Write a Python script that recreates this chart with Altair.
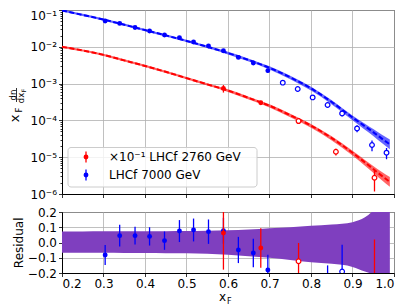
import altair as alt
import pandas as pd

# ---------------- data ----------------
grid_x = [0.2, 0.25, 0.3, 0.35, 0.4, 0.45, 0.5, 0.55, 0.6, 0.65, 0.7, 0.75, 0.8, 0.85, 0.9, 0.93, 0.95, 0.97, 0.99]
blue_model = [0.0977, 0.0733, 0.0550, 0.0398, 0.0285, 0.0204, 0.01445, 0.0100, 0.00676, 0.00437, 0.00269,
              0.00148, 7.41e-4, 3.16e-4, 1.20e-4, 6.92e-5, 4.79e-5, 3.24e-5, 2.24e-5]
red_model = [0.0100, 0.00794, 0.00603, 0.00427, 0.00302, 0.00209, 0.00141, 9.55e-4, 6.46e-4, 4.07e-4, 2.51e-4,
             1.38e-4, 7.24e-5, 3.31e-5, 1.32e-5, 7.24e-6, 4.79e-6, 3.16e-6, 2.14e-6]
band_hi = [0.072, 0.072, 0.073, 0.073, 0.074, 0.074, 0.075, 0.077, 0.080, 0.085, 0.093, 0.100, 0.110, 0.118,
           0.133, 0.165, 0.21, 0.27, 0.35]
band_lo = [-0.068, -0.068, -0.068, -0.069, -0.069, -0.070, -0.070, -0.074, -0.080, -0.090, -0.100, -0.115,
           -0.130, -0.140, -0.160, -0.190, -0.21, -0.24, -0.27]

# LHCf 7000 GeV, filled points
b_x = [0.304, 0.339, 0.376, 0.411, 0.447, 0.483, 0.517, 0.553, 0.589, 0.625, 0.661, 0.696]
b_y = [0.0502, 0.0433, 0.0336, 0.0269, 0.0209, 0.0177, 0.0135, 0.0105, 0.00783, 0.00515, 0.00363, 0.00225]
b_err = [0.0036, 0.0030, 0.0019, 0.0016, 0.0012, 0.0012, 0.00094, 0.00078, 0.00062, 0.00047, 0.00036, 0.00027]
b_res = [-0.082, 0.045, 0.045, 0.040, 0.012, 0.075, 0.082, 0.071, 0.077, -0.049, -0.069, -0.180]
b_res_err = [0.065, 0.072, 0.058, 0.060, 0.060, 0.072, 0.075, 0.080, 0.085, 0.086, 0.093, 0.100]
# LHCf 7000 GeV, open points
bo_x = [0.732, 0.768, 0.804, 0.840, 0.875, 0.911, 0.947, 0.982]
bo_y = [1.06e-3, 7.13e-4, 4.22e-4, 2.62e-4, 1.55e-4, 6.06e-5, 2.15e-5, 1.33e-5]
bo_err = [0.8e-4, 0.55e-4, 0.35e-4, 0.28e-4, 0.27e-4, 1.3e-5, 7e-6, 4.5e-6]
bo_res_x = [0.840, 0.875]
bo_res = [-0.26, -0.19]
bo_res_err = [0.11, 0.175]
# x10^-1 LHCf 2760 GeV, filled points
r_x = [0.589, 0.679]
r_y = [7.41e-4, 3.03e-4]
r_err = [1.7e-4, 4.1e-5]
r_res = [0.062, -0.036]
r_res_err = [0.24, 0.13]
# x10^-1 LHCf 2760 GeV, open points
ro_x = [0.770, 0.860, 0.953]
ro_y = [9.6e-5, 1.41e-5, 2.77e-6]
ro_err = [1.2e-5, 3e-6, 1.6e-6]
ro_res_x = [0.770, 0.953]
ro_res = [-0.123, -0.35]
ro_res_err = [0.12, 0.37]

x_ticks = [0.2, 0.3, 0.4, 0.5, 0.6, 0.7, 0.8, 0.9, 1.0]
y_dec = [1e-6, 1e-5, 1e-4, 1e-3, 1e-2, 1e-1]
y_dec_exp = [-6, -5, -4, -3, -2, -1]
y_dec_labels = ['10⁻⁶', '10⁻⁵', '10⁻⁴', '10⁻³', '10⁻²', '10⁻¹']
y_minor = [m * d for d in [1e-6, 1e-5, 1e-4, 1e-3, 1e-2] for m in range(2, 10)]
res_ticks = [-0.2, -0.1, 0.0, 0.1, 0.2]
legend_labels = ['×10⁻¹ LHCf 2760 GeV', 'LHCf 7000 GeV']

# ---------------- style ----------------
BLUE, RED, PURPLE = '#0000ff', '#ff0000', '#7f3fbf'
FONT = 'DejaVu Sans'
W, H1, H2 = 332, 184, 61

model = pd.DataFrame({'x': grid_x, 'blue': blue_model, 'red': red_model, 'hi': band_hi, 'lo': band_lo})
model['blue_hi'] = model['blue'] * (1 + model['hi'])
model['blue_lo'] = model['blue'] * (1 + model['lo'])
model['red_hi'] = model['red'] * (1 + model['hi'])
model['red_lo'] = model['red'] * (1 + model['lo'])


def pts(xs, ys, es):
    d = pd.DataFrame({'x': xs, 'y': ys, 'e': es})
    d['lo'] = d['y'] - d['e']
    d['hi'] = d['y'] + d['e']
    return d


xscale = alt.Scale(domain=[0.2, 1.0], nice=False, zero=False)
yscale_top = alt.Scale(type='log', domain=[1e-6, 1e-1], nice=False)
yscale_bot = alt.Scale(domain=[-0.2, 0.2], nice=False, zero=False)

MAJ = "abs(log(datum.value)/LN10 - round(log(datum.value)/LN10)) < 0.01"
E = "round(log(datum.value)/LN10)"
lab_expr = "!(" + MAJ + ") ? '' : "
for ex, lab in zip(y_dec_exp, y_dec_labels):
    lab_expr += f"{E} == {ex} ? '{lab}' : "
lab_expr += "''"

x_axis_top = alt.Axis(values=x_ticks, labels=False, title=None, grid=True, tickSize=3.5)
x_axis_bot = alt.Axis(values=x_ticks, format='.1f', title=None, grid=True, tickSize=3.5, labelPadding=2)
y_axis_top = alt.Axis(values=y_dec + y_minor, labelExpr=lab_expr, title=None, grid=True, labelOverlap=False,
                      tickSize={"condition": {"test": MAJ, "value": 3.5}, "value": 2},
                      gridOpacity={"condition": {"test": MAJ, "value": 1}, "value": 0},
                      labelBaseline={"condition": {"test": "datum.value > 0.05", "value": "top"}, "value": "middle"},
                      labelPadding=2)
y_axis_bot = alt.Axis(values=res_ticks, labelExpr="replace(format(datum.value, '.1f'), '-', '−')",
                      title='Residual', titleAngle=270, titleX=-40, titleY=30.3, titleBaseline='alphabetic',
                      titleAlign='center', grid=True, tickSize=3.5, labelPadding=2, labelOverlap=False)


def XT(f='x'):
    return alt.X(f'{f}:Q', scale=xscale, axis=x_axis_top)


def YT(f):
    return alt.Y(f'{f}:Q', scale=yscale_top, axis=y_axis_top)


def XB(f='x'):
    return alt.X(f'{f}:Q', scale=xscale, axis=x_axis_bot)


def YB(f):
    return alt.Y(f'{f}:Q', scale=yscale_bot, axis=y_axis_bot)


one = pd.DataFrame({'a': [0]})

# ---------------- top panel ----------------
mb = alt.Chart(model)
blue_band = mb.mark_area(color=BLUE, opacity=0.6, interpolate='monotone', clip=True).encode(
    x=XT(), y=YT('blue_lo'), y2='blue_hi:Q')
blue_line = mb.mark_line(color=BLUE, strokeDash=[5, 2.5], strokeWidth=2, interpolate='monotone', clip=True).encode(
    x=XT(), y=YT('blue'))
red_band = mb.mark_area(color=RED, opacity=0.6, interpolate='monotone', clip=True).encode(
    x=XT(), y=YT('red_lo'), y2='red_hi:Q')
red_line = mb.mark_line(color=RED, strokeDash=[5, 2.5], strokeWidth=2, interpolate='monotone', clip=True).encode(
    x=XT(), y=YT('red'))


def top_pts(xs, ys, es, color, filled):
    c = alt.Chart(pts(xs, ys, es))
    rule = c.mark_rule(color=color, strokeWidth=1.3, clip=True).encode(x=XT(), y=YT('lo'), y2='hi:Q')
    if filled:
        p = c.mark_point(shape='circle', filled=True, color=color, size=24, opacity=1, clip=True)
    else:
        p = c.mark_point(shape='circle', filled=True, fill='white', stroke=color, strokeWidth=1.2,
                         size=22, opacity=1, clip=True)
    return rule, p.encode(x=XT(), y=YT('y'))


tb_r, tb_p = top_pts(b_x, b_y, b_err, BLUE, True)
tbo_r, tbo_p = top_pts(bo_x, bo_y, bo_err, BLUE, False)
tr_r, tr_p = top_pts(r_x, r_y, r_err, RED, True)
tro_r, tro_p = top_pts(ro_x, ro_y, ro_err, RED, False)

co = alt.Chart(one)
leg_box = co.mark_rect(fill='white', fillOpacity=0.8, stroke='#cccccc', strokeWidth=1, cornerRadius=3).encode(
    x=alt.value(6), x2=alt.value(195), y=alt.value(137.5), y2=alt.value(177))
leg_items = []
for i, (col, lab) in enumerate(zip([RED, BLUE], legend_labels)):
    yy = 147 + 18 * i
    leg_items.append(co.mark_rule(color=col, strokeWidth=1.3).encode(
        x=alt.value(24), y=alt.value(yy - 5.5), y2=alt.value(yy + 5.5)))
    leg_items.append(co.mark_point(shape='circle', filled=True, color=col, size=24, opacity=1).encode(
        x=alt.value(24), y=alt.value(yy)))
    leg_items.append(co.mark_text(text=lab, align='left', baseline='middle', font=FONT, fontSize=12,
                                  color='black').encode(x=alt.value(47), y=alt.value(yy)))

# composed y-label  x_F dn/dx_F
ylab = [
    co.mark_text(text='x', angle=270, align='center', baseline='alphabetic', font=FONT, fontSize=13,
                 color='black').encode(x=alt.value(-43.5), y=alt.value(108.5)),
    co.mark_text(text='F', angle=270, align='center', baseline='alphabetic', font=FONT, fontSize=8.5,
                 color='black').encode(x=alt.value(-40.5), y=alt.value(100)),
    co.mark_text(text='dn', angle=270, align='center', baseline='alphabetic', font=FONT, fontSize=8.5,
                 color='black').encode(x=alt.value(-46.5), y=alt.value(85)),
    co.mark_rule(color='black', strokeWidth=0.8).encode(x=alt.value(-45.5), y=alt.value(78), y2=alt.value(92)),
    co.mark_text(text='dx', angle=270, align='center', baseline='alphabetic', font=FONT, fontSize=8.5,
                 color='black').encode(x=alt.value(-38.5), y=alt.value(88)),
    co.mark_text(text='F', angle=270, align='center', baseline='alphabetic', font=FONT, fontSize=6,
                 color='black').encode(x=alt.value(-36.5), y=alt.value(80.5)),
]

top = alt.layer(blue_band, blue_line, red_band, red_line,
                tb_r, tbo_r, tr_r, tro_r, tb_p, tbo_p, tr_p, tro_p,
                leg_box, *leg_items, *ylab).properties(width=W, height=H1)

# ---------------- bottom panel ----------------
res_band = alt.Chart(model).mark_area(color=PURPLE, opacity=1, interpolate='monotone', clip=True).encode(
    x=XB(), y=YB('lo'), y2='hi:Q')


def bot_pts(xs, ys, es, color, filled):
    c = alt.Chart(pts(xs, ys, es))
    rule = c.mark_rule(color=color, strokeWidth=1.3, clip=True).encode(x=XB(), y=YB('lo'), y2='hi:Q')
    if filled:
        p = c.mark_point(shape='circle', filled=True, color=color, size=24, opacity=1, clip=True)
    else:
        p = c.mark_point(shape='circle', filled=True, fill='white', stroke=color, strokeWidth=1.2,
                         size=22, opacity=1, clip=True)
    return rule, p.encode(x=XB(), y=YB('y'))


bb_r, bb_p = bot_pts(b_x, b_res, b_res_err, BLUE, True)
bbo_r, bbo_p = bot_pts(bo_res_x, bo_res, bo_res_err, BLUE, False)
br_r, br_p = bot_pts(r_x, r_res, r_res_err, RED, True)
bro_r, bro_p = bot_pts(ro_res_x, ro_res, ro_res_err, RED, False)

xlab = [
    co.mark_text(text='x', align='center', baseline='alphabetic', font=FONT, fontSize=12,
                 color='black').encode(x=alt.value(160.5), y=alt.value(89)),
    co.mark_text(text='F', align='left', baseline='alphabetic', font=FONT, fontSize=8,
                 color='black').encode(x=alt.value(165), y=alt.value(92)),
]

bottom = alt.layer(res_band, bb_r, bbo_r, bb_p, bbo_p, br_r, bro_r, br_p, bro_p, *xlab).properties(
    width=W, height=H2)

chart = alt.vconcat(top, bottom, spacing=4).configure_view(
    stroke='black', strokeWidth=1
).configure_axis(
    labelFont=FONT, labelFontSize=12, labelColor='black', tickColor='black', tickWidth=0.8,
    domainColor='black', domainWidth=1, gridColor='#b0b0b0', gridWidth=0.8,
    titleFont=FONT, titleFontSize=12, titleColor='black', titleFontWeight='normal'
).properties(background='white', padding=0)

chart.save('out.html', embed_options={'renderer': 'svg', 'actions': False})
